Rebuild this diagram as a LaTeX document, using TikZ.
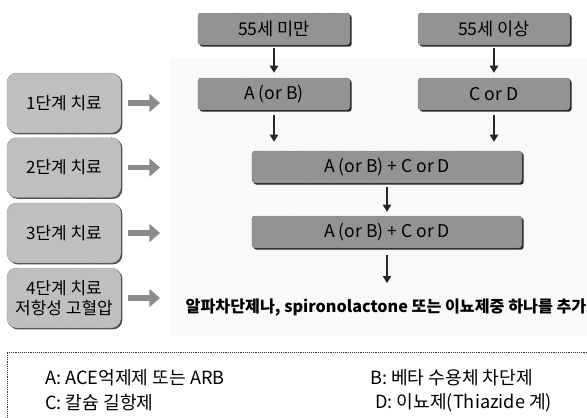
\documentclass[tikz,border=0pt]{standalone}
\usepackage{fontspec}
\setmainfont{Noto Sans CJK KR}
\usetikzlibrary{arrows.meta,shadows}

\tikzset{
  flowbox/.style={rectangle, rounded corners=2.5pt, fill=gray!85, draw=gray!45!black,
    densely dotted, line width=0.4pt, minimum width=4.56cm, minimum height=0.96cm,
    inner sep=0pt, font=\fontsize{15}{17}\selectfont,
    drop shadow={opacity=1, fill=black!85, shadow xshift=0.05cm, shadow yshift=-0.05cm}},
  widebox/.style={flowbox, minimum width=8.1cm},
  stagebox/.style={rectangle, rounded corners=8pt, fill=gray!50, draw=gray!50!black,
    densely dotted, line width=0.4pt, minimum width=3.42cm, minimum height=1.8cm,
    inner sep=0pt, align=center, font=\fontsize{14.5}{17.5}\selectfont,
    drop shadow={opacity=1, fill=black!70, shadow xshift=0.04cm, shadow yshift=-0.04cm}},
  downarrow/.style={draw=black!85, line width=1.3pt, -{Triangle[length=6pt, width=7pt]}},
  stagearrow/.style={draw=gray!90, line width=5pt, -{Triangle[length=9pt, width=15pt]}},
  legendtext/.style={anchor=west, inner sep=0pt, font=\fontsize{15.5}{17}\selectfont}
}

\begin{document}
\begin{tikzpicture}[x=0.03cm, y=-0.03cm]
    \useasboundingbox (0,0) rectangle (587,417);

    % light background of the flow area
    \fill[gray!5] (170,58) rectangle (587,336);

    % age groups
    \node[flowbox] (under) at (274,29) {55세 미만};
    \node[flowbox] (over) at (494,29) {55세 이상};

    % step 1 drugs
    \node[flowbox] (ab) at (274,94) {A (or B)};
    \node[flowbox] (cd) at (494,94) {C or D};

    % step 2 and 3
    \node[widebox] (combo2) at (387,167) {A (or B) + C or D};
    \node[widebox] (combo3) at (387,232) {A (or B) + C or D};

    % step 4
    \node[font=\fontsize{13.8}{16}\selectfont\bfseries, inner sep=0pt] (add) at (386,307)
        {알파차단제나, spironolactone 또는 이뇨제중 하나를 추가};

    % stages on the left
    \node[stagebox] (s1) at (64,103) {1단계 치료};
    \node[stagebox] (s2) at (64,167.5) {2단계 치료};
    \node[stagebox] (s3) at (64,233) {3단계 치료};
    \node[stagebox] (s4) at (64,298) {4단계 치료\\저항성 고혈압};

    % arrow tips of the stage arrows
    \coordinate (tip) at (160,0);
    \foreach \s in {s1,s2,s3,s4}
        \draw[stagearrow, shorten <=0.21cm] (\s.east) -- (\s.east -| tip);

    % flow arrows
    \draw[downarrow, shorten <=0.09cm, shorten >=0.15cm] (under) -- (ab);
    \draw[downarrow, shorten <=0.09cm, shorten >=0.15cm] (over) -- (cd);
    \draw[downarrow, shorten <=0.15cm, shorten >=0.27cm] (ab.south) -- (ab.south |- combo2.north);
    \draw[downarrow, shorten <=0.15cm, shorten >=0.27cm] (cd.south) -- (cd.south |- combo2.north);
    \draw[downarrow, shorten <=0.12cm, shorten >=0.12cm] (combo2) -- (combo3);
    \draw[downarrow, shorten <=0.21cm, shorten >=0.45cm] (combo3.south) -- (combo3.south |- add.north);

    % legend
    \draw[densely dotted, line width=0.6pt, gray!40!black] (7,440) -- (7,352) -- (600,352);
    \node[legendtext] (la) at (45,378) {A: ACE억제제 또는 ARB};
    \node[legendtext] (lb) at (370,378) {B: 베타 수용체 차단제};
    \node[legendtext] (lc) at (45,403) {C: 칼슘 길항제};
    \node[legendtext] (ld) at (375,403) {D: 이뇨제(Thiazide 계)};
\end{tikzpicture}
\end{document}
